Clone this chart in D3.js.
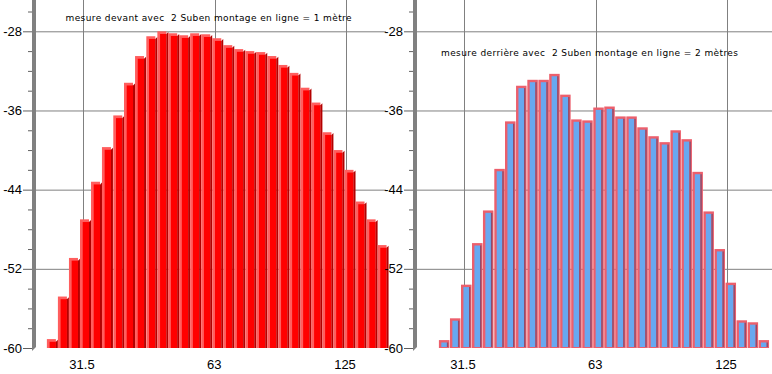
<!DOCTYPE html>
<html>
<head>
<meta charset="utf-8">
<script src="https://cdn.jsdelivr.net/npm/d3@7"></script>
<style>
  html, body { margin: 0; padding: 0; background: #fff; }
  svg { display: block; }
  .tick text { font-family: "Liberation Sans", Arial, sans-serif; font-size: 13px; fill: #000; }
  .title { font-family: "DejaVu Sans", Verdana, sans-serif; font-size: 9px; fill: #000; white-space: pre; }
</style>
</head>
<body>
<svg id="chart" width="772" height="374"></svg>
<script>
// 1/12-octave band centres (Hz)
const freqs = [26.9, 28.5, 30.2, 32, 33.9, 35.9, 38.1, 40.3, 42.7, 45.3, 48, 50.8, 53.8, 57, 60.4,
               64, 67.8, 71.8, 76.1, 80.6, 85.4, 90.5, 95.9, 101.6, 107.6, 114, 120.8, 128, 135.6, 143.7, 152.2];

// level (dB) – front measurement, 1 m
const devant = [-59.1, -54.8, -50.9, -47.0, -43.2, -39.7, -36.5, -33.2, -30.5, -28.5, -28.0, -28.2, -28.4, -28.2, -28.3,
                -28.7, -29.4, -29.8, -30.0, -30.1, -30.5, -31.4, -32.2, -33.7, -35.2, -38.2, -40.0, -42.0, -45.2, -47.0, -49.6];

// level (dB) – rear measurement, 2 m
const derriere = [null, -59.2, -57.0, -53.6, -49.4, -46.1, -41.9, -37.1, -33.5, -32.9, -32.9, -32.3, -34.4, -36.9, -37.0,
                  -35.7, -35.6, -36.6, -36.6, -37.7, -38.6, -39.2, -38.0, -38.9, -42.2, -46.2, -50.0, -53.4, -57.2, -57.4, -59.2];

const xTicks = [31.5, 63, 125];
const yMajor = [-28, -36, -44, -52, -60];
const yMinor = [-26, -30, -32, -34, -38, -40, -42, -46, -48, -50, -54, -56, -58];
const titles = ["mesure devant avec  2 Suben montage en ligne = 1 mètre",
                "mesure derrière avec  2 Suben montage en ligne = 2 mètres"];

const svg = d3.select("#chart");
svg.append("rect").attr("width", 772).attr("height", 374).attr("fill", "#fff");

const x = d3.scaleLog().domain([31.5, 125]).range([82.5, 345.5]);
const y = d3.scaleLinear().domain([-60, -28]).range([348, 31.3]);
const bw = 11;

const panels = [
  { ox: 0,   data: devant,   title: titles[0], tx: 65.5, ty: 20.5, tlen: 286, right: 386, style: "red" },
  { ox: 381, data: derriere, title: titles[1], tx: 60,   ty: 56,   tlen: 297, right: 391, style: "blue" }
];

panels.forEach(p => {
  const g = svg.append("g").attr("transform", `translate(${p.ox},0)`);

  // horizontal grid
  g.selectAll("line.hg").data(yMajor.filter(v => v !== -60)).join("line")
    .attr("x1", 36).attr("x2", p.right)
    .attr("y1", d => y(d) + 0.5).attr("y2", d => y(d) + 0.5)
    .attr("stroke", "#808080").attr("stroke-width", 1);

  // vertical grid
  g.selectAll("line.vg").data(xTicks).join("line")
    .attr("x1", d => Math.round(x(d)) + 0.5).attr("x2", d => Math.round(x(d)) + 0.5)
    .attr("y1", 0).attr("y2", y(-60))
    .attr("stroke", "#808080").attr("stroke-width", 1);

  // bars
  const bars = g.selectAll("g.bar")
    .data(freqs.map((f, i) => ({ f, v: p.data[i] })).filter(d => d.v != null))
    .join("g");
  const base = y(-60);
  if (p.style === "red") {
    bars.append("rect")
      .attr("x", d => x(d.f) - bw / 2).attr("y", d => y(d.v))
      .attr("width", 9).attr("height", d => base - y(d.v))
      .attr("fill", "#ff5e5e");
    bars.append("rect")
      .attr("x", d => x(d.f) - bw / 2 + 2.7).attr("y", d => y(d.v) + 2.7)
      .attr("width", 6.3).attr("height", d => base - y(d.v) - 2.7)
      .attr("fill", "#ff0000");
    bars.append("path")
      .attr("d", d => {
        const x0 = x(d.f) - bw / 2 + 9, t = y(d.v);
        return `M${x0},${t + 2.7} L${x0 + 2},${t + 0.7} L${x0 + 2},${base} L${x0},${base} Z`;
      })
      .attr("fill", "#b40000");
  } else {
    bars.append("rect")
      .attr("x", d => x(d.f) - bw / 2).attr("y", d => y(d.v))
      .attr("width", 10.5).attr("height", d => base - y(d.v))
      .attr("fill", "#ec5f6c");
    bars.append("rect")
      .attr("x", d => x(d.f) - bw / 2 + 2.4).attr("y", d => y(d.v) + 2.4)
      .attr("width", 5.6).attr("height", d => Math.max(0, base - y(d.v) - 3.4))
      .attr("fill", "#68a8f0");
    bars.append("rect")
      .attr("x", d => x(d.f) - bw / 2 + 8).attr("y", d => y(d.v) + 2.4)
      .attr("width", 1.4).attr("height", d => Math.max(0, base - y(d.v) - 3.4))
      .attr("fill", "#8e4c6c");
  }

  // axis wall
  g.append("path")
    .attr("d", `M32,0 L36,0 L36,${base - 1} L32,${base + 3} Z`)
    .attr("fill", "#808080");

  // y axis ticks
  const yAxis = d3.axisLeft(y).tickValues(yMajor).tickSize(9).tickPadding(1).tickFormat(d => d);
  const ya = g.append("g").attr("transform", "translate(32,0)").call(yAxis);
  ya.select(".domain").remove();
  ya.selectAll(".tick line").attr("stroke", "#606060");
  const yMin = d3.axisLeft(y).tickValues(yMinor).tickSize(4).tickFormat("");
  const ym = g.append("g").attr("transform", "translate(32,0)").call(yMin);
  ym.select(".domain").remove();
  ym.selectAll(".tick line").attr("stroke", "#606060");

  // x axis labels
  const xAxis = d3.axisBottom(x).tickValues(xTicks).tickSize(0).tickPadding(11.5).tickFormat(d => String(d));
  const xa = g.append("g").attr("transform", `translate(-1,${base})`).call(xAxis);
  xa.select(".domain").remove();

  // title
  g.append("text").attr("class", "title")
    .attr("x", p.tx).attr("y", p.ty)
    .attr("xml:space", "preserve")
    .attr("textLength", p.tlen).attr("lengthAdjust", "spacing")
    .text(p.title);
});
</script>
</body>
</html>
